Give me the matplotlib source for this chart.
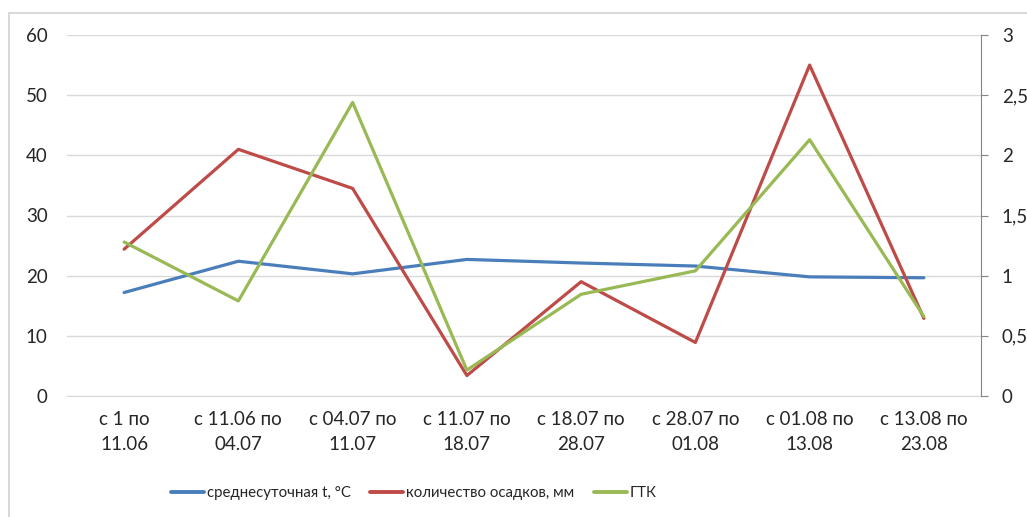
import matplotlib
matplotlib.use('Agg')
from matplotlib import pyplot as plt
from matplotlib.patches import Rectangle
from matplotlib.ticker import FuncFormatter

# Data
periods = ['с 1 по\n11.06', 'с 11.06 по\n04.07', 'с 04.07 по\n11.07', 'с 11.07 по\n18.07',
           'с 18.07 по\n28.07', 'с 28.07 по\n01.08', 'с 01.08 по\n13.08', 'с 13.08 по\n23.08']
temperature = [17.2, 22.4, 20.3, 22.7, 22.1, 21.6, 19.8, 19.65]
precipitation = [24.4, 41.0, 34.5, 3.4, 19.0, 8.9, 55.0, 12.9]
gtk = [1.28, 0.79, 2.44, 0.215, 0.845, 1.04, 2.13, 0.66]

plt.rcParams['font.family'] = ['Lato', 'DejaVu Sans']

blue = '#4A7EBB'
red = '#BE4B48'
green = '#98B954'
grid_color = '#D9D9D9'
text_color = '#262626'

fig = plt.figure(figsize=(10.27, 5.17), dpi=100)

# Chart border
fig.patches.append(Rectangle((9 / 1027, -0.1), 1.2, (517 - 13) / 517 + 0.1,
                             transform=fig.transFigure, fill=False,
                             edgecolor='#D9D9D9', linewidth=1.5))

ax = fig.add_axes([67 / 1027, 1 - 396 / 517, (981 - 67) / 1027, (396 - 35) / 517])
ax2 = ax.twinx()

x = list(range(len(periods)))

ax.plot(x, temperature, color=blue, linewidth=2.3, label='среднесуточная t, °C', solid_capstyle='round')
ax.plot(x, precipitation, color=red, linewidth=2.3, label='количество осадков, мм', solid_capstyle='round')
ax2.plot(x, gtk, color=green, linewidth=2.3, label='ГТК', solid_capstyle='round')

ax.set_xlim(-0.5, len(periods) - 0.5)
ax.set_ylim(0, 60)
ax.set_yticks(range(0, 61, 10))
ax2.set_ylim(0, 3)
ax2.set_yticks([0, 0.5, 1, 1.5, 2, 2.5, 3])
ax2.yaxis.set_major_formatter(FuncFormatter(lambda v, p: ('%g' % v).replace('.', ',')))

ax.set_xticks(x)
ax.set_xticklabels(periods, fontsize=13.5, color=text_color, linespacing=1.55)

# Gridlines
ax.grid(axis='y', color=grid_color, linewidth=1)
ax.set_axisbelow(True)

# Spines
for s in ['top', 'left', 'right']:
    ax.spines[s].set_visible(False)
for s in ['top', 'left', 'bottom']:
    ax2.spines[s].set_visible(False)
ax.spines['bottom'].set_color(grid_color)
ax2.spines['right'].set_color('#868686')
ax2.spines['right'].set_linewidth(0.8)

ax.tick_params(axis='x', length=0, pad=11)
ax.tick_params(axis='y', length=0, pad=14, labelsize=13.5, labelcolor=text_color)
ax2.tick_params(axis='y', length=5, width=0.8, color='#868686', pad=10,
                labelsize=13.5, labelcolor=text_color)

# Legend
handles = ax.get_lines() + ax2.get_lines()
leg = fig.legend(handles, [h.get_label() for h in handles], loc='center',
                 bbox_to_anchor=(414 / 1027, 1 - 493 / 517), ncol=3, frameon=False,
                 fontsize=10.8, handlelength=2.2, handletextpad=0.2, columnspacing=1.3,
                 labelcolor=text_color)
for line in leg.get_lines():
    line.set_linewidth(2.8)

fig.savefig('out.png', dpi=100)
